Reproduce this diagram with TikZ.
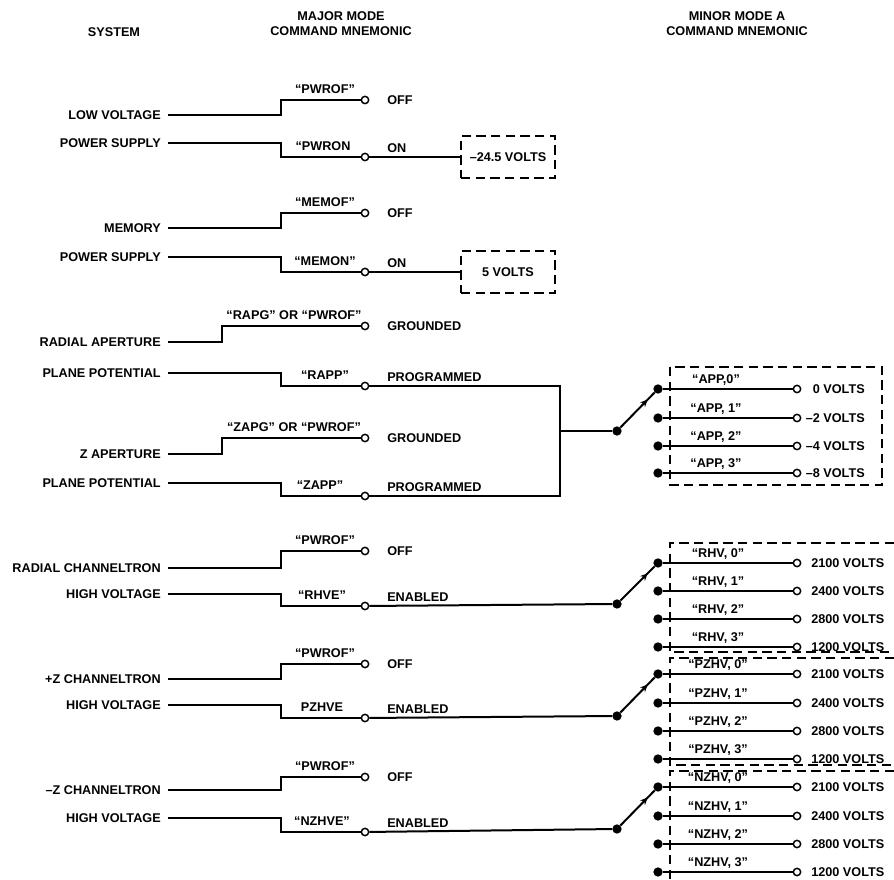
\documentclass[tikz,border=0pt]{standalone}
\usepackage{fontspec}
\setmainfont{Liberation Sans}
\usepackage{tikz}
\usetikzlibrary{arrows.meta,decorations.markings}

\begin{document}
\begin{tikzpicture}[x=0.75pt,y=0.75pt,yscale=-1,xscale=1,
  every node/.style={font=\fontsize{9.5}{11.25}\selectfont\bfseries, inner sep=0.75pt},
  sys/.style={anchor=east},
  cmd/.style={anchor=base},
  modetxt/.style={anchor=west},
  uptxt/.style={anchor=base west},
  open/.style={circle, draw, fill=white, line width=1.1pt, inner sep=0pt, minimum size=5.5pt},
  dot/.style={circle, fill, inner sep=0pt, minimum size=7pt},
  wire/.style={line width=1.5pt},
  dbox/.style={line width=1.2pt, dash pattern=on 7pt off 4pt},
  vbox/.style={draw, dbox, minimum width=70.5pt, minimum height=31.5pt},
  arm/.style={wire, postaction={decorate}, decoration={markings, mark=at position 0.8 with {\arrow{Stealth[length=5.5pt,width=5pt]}}}}
]
\useasboundingbox (0,0) rectangle (894,880);

% Headings
\node (hsys) at (114,32) {SYSTEM};
\node [align=center] (hmaj) at (341,24) {MAJOR MODE\\COMMAND MNEMONIC};
\node [align=center] (hmin) at (737,24) {MINOR MODE A\\COMMAND MNEMONIC};

% step positions
\coordinate (s1) at (281,0);
\coordinate (s2) at (222,0);

%% Low voltage power supply
\node [sys] (lv) at (162,115) {LOW VOLTAGE};
\node [sys] (ps1) at (162,143) {POWER SUPPLY};
\node [open] (lvoff) at (365,100) {};
\node [open] (lvon) at (365,157) {};
\node [cmd] (clvoff) at (325,94) {“PWROF”};
\node [modetxt] (tlvoff) at (386,100) {OFF};
\node [cmd] (clvon) at (323,151) {“PWRON};
\node [uptxt] (tlvon) at (386,153) {ON};
\node [vbox] (box24) at (508,157) {–24.5 VOLTS};
%Straight Lines
\draw [wire] ([xshift=4.5pt]lv.east) -- (lv.east -| s1) |- (lvoff);
\draw [wire] ([xshift=4.5pt]ps1.east) -- (ps1.east -| s1) |- (lvon);
\draw [wire] (lvon) -- (box24);

%% Memory power supply
\node [sys] (mem) at (162,228) {MEMORY};
\node [sys] (ps2) at (162,257) {POWER SUPPLY};
\node [open] (memoff) at (365,213) {};
\node [open] (memon) at (365,272) {};
\node [cmd] (cmemoff) at (325,207) {“MEMOF”};
\node [modetxt] (tmemoff) at (386,213) {OFF};
\node [cmd] (cmemon) at (325,266) {“MEMON”};
\node [uptxt] (tmemon) at (386,268) {ON};
\node [vbox] (box5) at (508,272) {5 VOLTS};
%Straight Lines
\draw [wire] ([xshift=4.5pt]mem.east) -- (mem.east -| s1) |- (memoff);
\draw [wire] ([xshift=4.5pt]ps2.east) -- (ps2.east -| s1) |- (memon);
\draw [wire] (memon) -- (box5);

%% Apertures
\node [sys] (rap) at (162,342) {RADIAL APERTURE};
\node [sys] (pp1) at (162,373) {PLANE POTENTIAL};
\node [sys] (zap) at (162,454) {Z APERTURE};
\node [sys] (pp2) at (162,483) {PLANE POTENTIAL};
\node [open] (rapg) at (365,326) {};
\node [open] (rapp) at (365,386) {};
\node [open] (zapg) at (365,438) {};
\node [open] (zapp) at (365,496) {};
\node [cmd] (crapg) at (294,320) {“RAPG” OR “PWROF”};
\node [modetxt] (trapg) at (386,326) {GROUNDED};
\node [cmd] (crapp) at (325,380) {“RAPP”};
\node [uptxt] (trapp) at (386,382) {PROGRAMMED};
\node [cmd] (czapg) at (294,432) {“ZAPG” OR “PWROF”};
\node [modetxt] (tzapg) at (386,438) {GROUNDED};
\node [cmd] (czapp) at (320,490) {“ZAPP”};
\node [uptxt] (tzapp) at (386,492) {PROGRAMMED};
\coordinate (ja) at (560,386);
\coordinate (jb) at (560,496);
%Straight Lines
\draw [wire] ([xshift=4.5pt]rap.east) -- (rap.east -| s2) |- (rapg);
\draw [wire] ([xshift=4.5pt]pp1.east) -- (pp1.east -| s1) |- (rapp);
\draw [wire] ([xshift=4.5pt]zap.east) -- (zap.east -| s2) |- (zapg);
\draw [wire] ([xshift=4.5pt]pp2.east) -- (pp2.east -| s1) |- (zapp);
\draw [wire] (rapp) -- (ja) -- (jb) -- (zapp);

% Switch APP
\node [dot] (pa) at (617,431) {};
\draw [wire] (ja |- pa) -- (pa);
\node [dot] (a0) at (658,389) {};
\node [dot] (a1) at (658,418) {};
\node [dot] (a2) at (658,446) {};
\node [dot] (a3) at (658,473) {};
\node [open] (ao0) at (797,389) {};
\node [open] (ao1) at (797,418) {};
\node [open] (ao2) at (797,446) {};
\node [open] (ao3) at (797,473) {};
\draw [wire] (a0) -- (ao0);
\draw [wire] (a1) -- (ao1);
\draw [wire] (a2) -- (ao2);
\draw [wire] (a3) -- (ao3);
\draw [arm] (pa) -- (a0);
\node [cmd] (ca0) at (716,384) {“APP,0”};
\node [cmd] (ca1) at (716,413) {“APP, 1”};
\node [cmd] (ca2) at (716,441) {“APP, 2”};
\node [cmd] (ca3) at (716,468) {“APP, 3”};
\node [anchor=east] (va0) at (866,389) {0 VOLTS};
\node [anchor=east] (va1) at (866,418) {–2 VOLTS};
\node [anchor=east] (va2) at (866,446) {–4 VOLTS};
\node [anchor=east] (va3) at (866,473) {–8 VOLTS};
\draw [dbox] (670,367) rectangle (882,485);

%% Radial channeltron
\node [sys] (rch) at (162,568) {RADIAL CHANNELTRON};
\node [sys] (hv1) at (162,594) {HIGH VOLTAGE};
\node [open] (rchoff) at (365,551) {};
\node [open] (rhve) at (365,606) {};
\node [cmd] (crchoff) at (325,545) {“PWROF”};
\node [modetxt] (trchoff) at (386,551) {OFF};
\node [cmd] (crhve) at (322,600) {“RHVE”};
\node [uptxt] (trhve) at (386,602) {ENABLED};
\node [dot] (pr) at (617,604) {};
%Straight Lines
\draw [wire] ([xshift=4.5pt]rch.east) -- (rch.east -| s1) |- (rchoff);
\draw [wire] ([xshift=4.5pt]hv1.east) -- (hv1.east -| s1) |- (rhve);
\draw [wire] (rhve) -- (pr);
\node [dot] (r0) at (658,563) {};
\node [dot] (r1) at (658,591) {};
\node [dot] (r2) at (658,619) {};
\node [dot] (r3) at (658,647) {};
\node [open] (ro0) at (797,563) {};
\node [open] (ro1) at (797,591) {};
\node [open] (ro2) at (797,619) {};
\node [open] (ro3) at (797,647) {};
\draw [wire] (r0) -- (ro0);
\draw [wire] (r1) -- (ro1);
\draw [wire] (r2) -- (ro2);
\draw [wire] (r3) -- (ro3);
\draw [arm] (pr) -- (r0);
\node [cmd] (cr0) at (718,558) {“RHV, 0”};
\node [cmd] (cr1) at (718,586) {“RHV, 1”};
\node [cmd] (cr2) at (718,614) {“RHV, 2”};
\node [cmd] (cr3) at (718,642) {“RHV, 3”};
\node [anchor=west] (vr0) at (810,563) {2100 VOLTS};
\node [anchor=west] (vr1) at (810,591) {2400 VOLTS};
\node [anchor=west] (vr2) at (810,619) {2800 VOLTS};
\node [anchor=west] (vr3) at (810,647) {1200 VOLTS};
\draw [dbox] (894,543) -- (670,543) -- (670,652) -- (894,652);

%% +Z channeltron
\node [sys] (pch) at (162,679) {+Z CHANNELTRON};
\node [sys] (hv2) at (162,705) {HIGH VOLTAGE};
\node [open] (pchoff) at (365,664) {};
\node [open] (pzhve) at (365,718) {};
\node [cmd] (cpchoff) at (325,658) {“PWROF”};
\node [modetxt] (tpchoff) at (386,664) {OFF};
\node [cmd] (cpzhve) at (322,712) {PZHVE};
\node [uptxt] (tpzhve) at (386,714) {ENABLED};
\node [dot] (pp) at (617,716) {};
%Straight Lines
\draw [wire] ([xshift=4.5pt]pch.east) -- (pch.east -| s1) |- (pchoff);
\draw [wire] ([xshift=4.5pt]hv2.east) -- (hv2.east -| s1) |- (pzhve);
\draw [wire] (pzhve) -- (pp);
\node [dot] (p0) at (658,674) {};
\node [dot] (p1) at (658,703) {};
\node [dot] (p2) at (658,731) {};
\node [dot] (p3) at (658,759) {};
\node [open] (po0) at (797,674) {};
\node [open] (po1) at (797,703) {};
\node [open] (po2) at (797,731) {};
\node [open] (po3) at (797,759) {};
\draw [wire] (p0) -- (po0);
\draw [wire] (p1) -- (po1);
\draw [wire] (p2) -- (po2);
\draw [wire] (p3) -- (po3);
\draw [arm] (pp) -- (p0);
\node [cmd] (cp0) at (718,669) {“PZHV, 0”};
\node [cmd] (cp1) at (718,698) {“PZHV, 1”};
\node [cmd] (cp2) at (718,726) {“PZHV, 2”};
\node [cmd] (cp3) at (718,754) {“PZHV, 3”};
\node [anchor=west] (vp0) at (810,674) {2100 VOLTS};
\node [anchor=west] (vp1) at (810,703) {2400 VOLTS};
\node [anchor=west] (vp2) at (810,731) {2800 VOLTS};
\node [anchor=west] (vp3) at (810,759) {1200 VOLTS};
\draw [dbox] (894,658) -- (670,658) -- (670,765) -- (894,765);

%% -Z channeltron
\node [sys] (nch) at (162,790) {–Z CHANNELTRON};
\node [sys] (hv3) at (162,818) {HIGH VOLTAGE};
\node [open] (nchoff) at (365,777) {};
\node [open] (nzhve) at (365,832) {};
\node [cmd] (cnchoff) at (325,771) {“PWROF”};
\node [modetxt] (tnchoff) at (386,777) {OFF};
\node [cmd] (cnzhve) at (322,826) {“NZHVE”};
\node [uptxt] (tnzhve) at (386,828) {ENABLED};
\node [dot] (pn) at (617,829) {};
%Straight Lines
\draw [wire] ([xshift=4.5pt]nch.east) -- (nch.east -| s1) |- (nchoff);
\draw [wire] ([xshift=4.5pt]hv3.east) -- (hv3.east -| s1) |- (nzhve);
\draw [wire] (nzhve) -- (pn);
\node [dot] (n0) at (658,787) {};
\node [dot] (n1) at (658,816) {};
\node [dot] (n2) at (658,844) {};
\node [dot] (n3) at (658,872) {};
\node [open] (no0) at (797,787) {};
\node [open] (no1) at (797,816) {};
\node [open] (no2) at (797,844) {};
\node [open] (no3) at (797,872) {};
\draw [wire] (n0) -- (no0);
\draw [wire] (n1) -- (no1);
\draw [wire] (n2) -- (no2);
\draw [wire] (n3) -- (no3);
\draw [arm] (pn) -- (n0);
\node [cmd] (cn0) at (718,782) {“NZHV, 0”};
\node [cmd] (cn1) at (718,811) {“NZHV, 1”};
\node [cmd] (cn2) at (718,839) {“NZHV, 2”};
\node [cmd] (cn3) at (718,867) {“NZHV, 3”};
\node [anchor=west] (vn0) at (810,787) {2100 VOLTS};
\node [anchor=west] (vn1) at (810,816) {2400 VOLTS};
\node [anchor=west] (vn2) at (810,844) {2800 VOLTS};
\node [anchor=west] (vn3) at (810,872) {1200 VOLTS};
\draw [dbox] (894,771) -- (670,771) -- (670,880);

\end{tikzpicture}
\end{document}
